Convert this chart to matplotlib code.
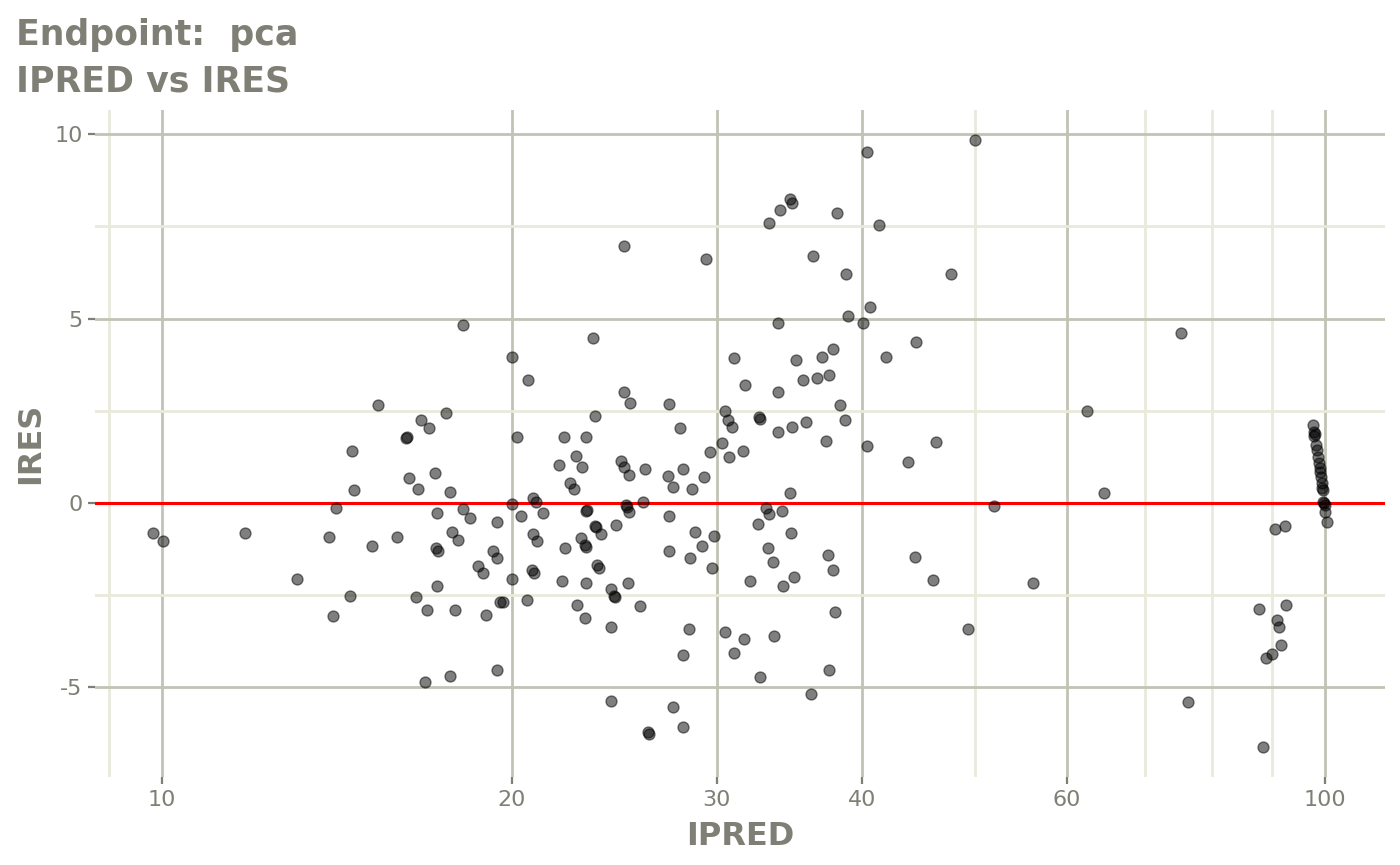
import numpy as np
import matplotlib
matplotlib.use("Agg")
from matplotlib import pyplot as plt
from matplotlib.ticker import FixedLocator, NullFormatter

plt.rcParams['font.family'] = ['DejaVu Sans']
plt.rcParams['axes.unicode_minus'] = False

# valores (IPRED em escala log, IRES linear)
ipred = [
    9.82, 10.02, 11.79, 13.06, 13.92, 14.12, 14.57, 14.63, 14.51, 14.03,
    15.16, 15.34, 15.93, 16.21, 16.24, 16.31, 16.60, 16.70, 16.97, 17.55,
    17.17, 17.69, 17.24, 17.20, 17.27, 16.54, 16.90, 17.24, 18.15, 18.40,
    17.76, 17.97, 18.70, 18.88, 17.86, 19.00, 16.83, 17.69, 19.41, 19.26,
    19.41, 19.52, 19.64, 19.41, 18.15,
    20.00, 20.84, 20.97, 20.36, 21.26, 20.84, 21.01, 20.80, 20.89, 20.00,
    20.60, 22.21, 22.08, 22.75, 23.11, 23.16, 22.93, 23.11, 23.16, 23.16,
    23.20, 23.57, 23.62, 23.85, 24.57, 23.66, 23.76, 24.33, 24.48, 24.52,
    25.16, 24.33, 25.76, 25.06, 25.10, 25.21, 25.92, 27.29, 28.72, 29.83,
    29.12, 27.29, 28.44, 29.71, 28.39, 28.05, 24.33, 27.51, 28.05, 26.18,
    26.23, 24.96, 29.35, 23.47, 20.00, 20.64, 24.96, 25.26, 27.29, 23.57,
    20.20, 22.17, 23.16, 27.89, 22.70, 21.95, 22.97, 24.81, 24.96, 25.21,
    26.02, 27.24, 27.51, 28.05, 28.56, 29.24, 22.42, 22.61, 29.59, 30.30,
    30.48, 31.65, 31.03, 33.59, 32.67, 32.03, 34.20, 34.95, 33.19, 33.52,
    32.54, 33.06, 33.26, 34.13, 34.74, 34.67, 33.26, 33.86, 31.03, 31.71,
    33.86, 30.48, 30.66, 30.90, 32.61, 32.67, 33.86, 31.59, 30.72, 40.38,
    34.67, 34.81, 33.99, 38.05, 41.35, 36.29, 38.74, 38.90, 40.62, 40.06,
    37.76, 36.94, 35.09, 41.93, 37.46, 36.58, 35.58, 38.28, 38.66, 34.81,
    35.79, 37.24, 40.38, 37.39, 37.76, 37.91, 37.46, 36.14,
    50.00, 47.68, 44.50, 43.80, 46.28, 62.43, 64.57, 51.93, 44.41, 46.01,
    56.10, 49.32, 75.18, 76.23, 88.45, 87.75, 92.58, 90.94, 91.29, 91.67,
    90.04, 88.99, 90.58, 92.40,
    97.65, 97.85, 98.04, 97.85, 98.24, 98.43, 98.62, 98.82, 99.02, 99.02,
    99.21, 99.41, 99.41, 99.61, 99.61, 99.80, 100.00, 100.00, 100.40,
]
ires = [
    -0.81, -1.03, -0.81, -2.06, -0.92, -0.14, 1.41, 0.35, -2.52, -3.07,
    -1.17, 2.66, -0.92, 1.76, 1.79, 0.68, 0.38, 2.25, 2.04, 2.44,
    0.81, 0.30, -0.27, -1.22, -1.30, -2.55, -2.90, -2.25, -0.16, -0.41,
    -0.79, -1.00, -1.71, -1.90, -2.90, -3.04, -4.86, -4.69, -0.52, -1.30,
    -1.49, -2.69, -2.69, -4.53, 4.83,
    -0.03, 0.14, 0.03, -0.35, -0.27, -0.84, -1.03, -1.82, -1.90, -2.06,
    -2.63, -1.22, -2.12, -2.77, -3.12, -2.17, -0.95, -1.14, -1.19, -0.22,
    -0.20, -0.62, -0.65, -0.84, -0.60, -1.68, -1.76, -2.33, -2.52, -2.55,
    -2.17, -3.37, -2.80, -0.05, -0.11, -0.24, 0.03, -0.35, -0.79, -0.90,
    -1.17, -1.30, -1.49, -1.76, -3.42, -4.12, -5.37, -5.54, -6.08, -6.21,
    -6.27, 6.97, 6.62, 4.48, 3.96, 3.34, 3.01, 2.71, 2.69, 2.36,
    1.79, 1.79, 1.79, 2.04, 1.28, 1.03, 0.98, 1.14, 0.98, 0.76,
    0.92, 0.73, 0.43, 0.92, 0.38, 0.71, 0.54, 0.38, 1.38, 1.63,
    -3.50, -3.69, -4.07, -3.61, -4.72, -2.12, -2.25, -2.01, -1.22, -1.60,
    -0.57, -0.14, -0.30, -0.22, -0.81, 0.27, 7.60, 4.88, 3.93, 3.20,
    3.01, 2.50, 2.25, 2.06, 2.33, 2.28, 1.93, 1.41, 1.25, 9.52,
    8.25, 8.14, 7.95, 7.87, 7.54, 6.70, 6.21, 5.07, 5.32, 4.88,
    4.18, 3.96, 3.88, 3.96, 3.47, 3.39, 3.34, 2.66, 2.25, 2.06,
    2.20, 1.68, 1.55, -1.41, -1.82, -2.96, -4.53, -5.18,
    9.85, 6.21, 4.37, 1.11, 1.66, 2.50, 0.27, -0.08, -1.47, -2.09,
    -2.17, -3.42, 4.61, -5.40, -6.62, -2.88, -2.77, -3.18, -3.36, -3.85,
    -4.10, -4.21, -0.71, -0.62,
    2.12, 1.93, 1.87, 1.82, 1.57, 1.44, 1.25, 1.09, 0.95, 0.84,
    0.71, 0.54, 0.41, 0.35, 0.03, 0.00, -0.05, -0.24, -0.52,
]

x_major = [10, 20, 30, 40, 60, 100]
x_minor = [9, 50, 70, 80, 90]
y_major = [-5, 0, 5, 10]
y_minor = [-7.5, -2.5, 2.5, 7.5]

cinza = '#7f7f75'
grade_maior = '#c2c2b5'
grade_menor = '#e9e9dc'

fig = plt.figure(figsize=(14, 8.65), dpi=100)
ax = fig.add_axes([95/1400, 1 - 777/865, 1290/1400, 667/865])

ax.set_xscale('log')
ax.set_xlim(8.76, 112.6)
ax.set_ylim(-7.44, 10.66)

ax.xaxis.set_major_locator(FixedLocator(x_major))
ax.xaxis.set_minor_locator(FixedLocator(x_minor))
ax.xaxis.set_minor_formatter(NullFormatter())
ax.set_xticklabels([str(v) for v in x_major])
ax.yaxis.set_major_locator(FixedLocator(y_major))
ax.yaxis.set_minor_locator(FixedLocator(y_minor))
ax.set_yticklabels([str(v) for v in y_major])

ax.grid(which='major', color=grade_maior, linewidth=2.0, zorder=0)
ax.grid(which='minor', color=grade_menor, linewidth=2.0, zorder=0)
ax.set_axisbelow(True)

for s in ax.spines.values():
    s.set_visible(False)

ax.tick_params(which='major', length=5, width=1.6, color=cinza,
               labelcolor=cinza, labelsize=16, pad=4)
ax.tick_params(which='minor', length=0)

ax.axhline(0, color='red', linewidth=2.2, zorder=2)

ax.scatter(ipred, ires, s=62, color='black', alpha=0.5,
           edgecolors='black', linewidths=1.0, zorder=3)

ax.set_xlabel('IPRED', fontsize=23, fontweight='bold', color=cinza, labelpad=8.5)
ax.set_ylabel('IRES', fontsize=23, fontweight='bold', color=cinza, labelpad=6)

fig.text(16/1400, 1 - 45/865, 'Endpoint:  pca', fontsize=25, fontweight='bold',
         color=cinza, ha='left', va='baseline')
fig.text(16/1400, 1 - 91/865, 'IPRED vs IRES', fontsize=25, fontweight='bold',
         color=cinza, ha='left', va='baseline')

fig.savefig('out.png', dpi=100)
